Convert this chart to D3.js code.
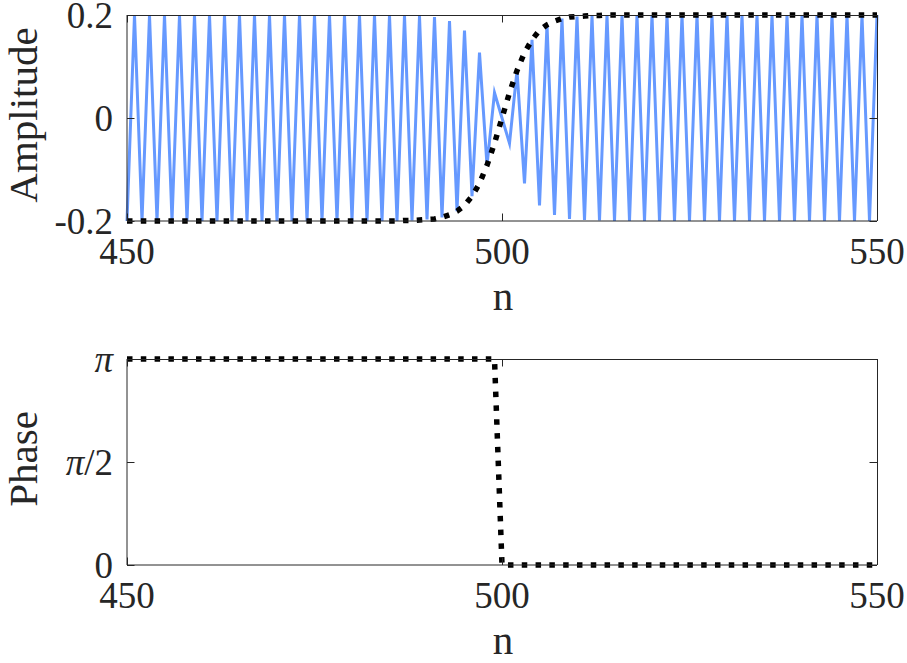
<!DOCTYPE html>
<html><head><meta charset="utf-8"><script src="https://cdn.jsdelivr.net/npm/d3@7"></script></head>
<body style="margin:0">
<svg id="chart" width="907" height="663"></svg>
<script>
// ---------- data ----------
const nStart = 450, nEnd = 550;
const xTickValues = [450, 500, 550];
const xTickLabels = ["450", "500", "550"];
const ampTickValues = [-0.2, 0, 0.2];
const ampTickLabels = ["-0.2", "0", "0.2"];
const phaseTickValues = [0, Math.PI / 2, Math.PI];
const phaseTickLabels = ["0", "π/2", "π"];

// signal samples x[n], n = 450 ... 550
const signal = [
  -0.2, 0.2, -0.2, 0.2, -0.2, 0.2, -0.2, 0.2, -0.2, 0.2,      // 450-459
  -0.2, 0.2, -0.2, 0.2, -0.2, 0.2, -0.2, 0.2, -0.2, 0.2,      // 460-469
  -0.2, 0.2, -0.2, 0.2, -0.2, 0.2, -0.2, 0.2, -0.2, 0.2,      // 470-479
  -0.2, 0.2, -0.2, 0.2, -0.2, 0.2, -0.2, 0.199, -0.199, 0.198, // 480-489
  -0.197, 0.196, -0.193, 0.188, -0.181, 0.170, -0.152, 0.127, -0.092, 0.049, // 490-499
  0, -0.049, 0.092, -0.127, 0.152, -0.170, 0.181, -0.188, 0.193, -0.196, // 500-509
  0.197, -0.198, 0.199, -0.199, 0.2, -0.2, 0.2, -0.2, 0.2, -0.2, // 510-519
  0.2, -0.2, 0.2, -0.2, 0.2, -0.2, 0.2, -0.2, 0.2, -0.2,      // 520-529
  0.2, -0.2, 0.2, -0.2, 0.2, -0.2, 0.2, -0.2, 0.2, -0.2,      // 530-539
  0.2, -0.2, 0.2, -0.2, 0.2, -0.2, 0.2, -0.2, 0.2, -0.2,      // 540-549
  0.2                                                          // 550
];

// envelope (signed amplitude), n = 450 ... 550
const envelope = [
  -0.2, -0.2, -0.2, -0.2, -0.2, -0.2, -0.2, -0.2, -0.2, -0.2,
  -0.2, -0.2, -0.2, -0.2, -0.2, -0.2, -0.2, -0.2, -0.2, -0.2,
  -0.2, -0.2, -0.2, -0.2, -0.2, -0.2, -0.2, -0.2, -0.2, -0.2,
  -0.2, -0.2, -0.2, -0.2, -0.2, -0.2, -0.2, -0.199, -0.199, -0.198,
  -0.197, -0.196, -0.193, -0.188, -0.181, -0.170, -0.152, -0.127, -0.092, -0.049,
  0, 0.049, 0.092, 0.127, 0.152, 0.170, 0.181, 0.188, 0.193, 0.196,
  0.197, 0.198, 0.199, 0.199, 0.2, 0.2, 0.2, 0.2, 0.2, 0.2,
  0.2, 0.2, 0.2, 0.2, 0.2, 0.2, 0.2, 0.2, 0.2, 0.2,
  0.2, 0.2, 0.2, 0.2, 0.2, 0.2, 0.2, 0.2, 0.2, 0.2,
  0.2, 0.2, 0.2, 0.2, 0.2, 0.2, 0.2, 0.2, 0.2, 0.2,
  0.2
];

// phase, n = 450 ... 550
const phase = [
  3.1416, 3.1416, 3.1416, 3.1416, 3.1416, 3.1416, 3.1416, 3.1416, 3.1416, 3.1416,
  3.1416, 3.1416, 3.1416, 3.1416, 3.1416, 3.1416, 3.1416, 3.1416, 3.1416, 3.1416,
  3.1416, 3.1416, 3.1416, 3.1416, 3.1416, 3.1416, 3.1416, 3.1416, 3.1416, 3.1416,
  3.1416, 3.1416, 3.1416, 3.1416, 3.1416, 3.1416, 3.1416, 3.1416, 3.1416, 3.1416,
  3.1416, 3.1416, 3.1416, 3.1416, 3.1416, 3.1416, 3.1416, 3.1416, 3.1416, 3.1416,
  0, 0, 0, 0, 0, 0, 0, 0, 0, 0,
  0, 0, 0, 0, 0, 0, 0, 0, 0, 0,
  0, 0, 0, 0, 0, 0, 0, 0, 0, 0,
  0, 0, 0, 0, 0, 0, 0, 0, 0, 0,
  0, 0, 0, 0, 0, 0, 0, 0, 0, 0,
  0
];

const nValues = d3.range(nStart, nEnd + 1);

// ---------- layout ----------
const svg = d3.select("#chart");
const L = 127, R = 877;
const panels = [
  { top: 15, bottom: 221, domain: [-0.2, 0.2], ticks: ampTickValues, labels: ampTickLabels, ylabel: "Amplitude" },
  { top: 359, bottom: 565, domain: [0, Math.PI], ticks: phaseTickValues, labels: phaseTickLabels, ylabel: "Phase" }
];
const tickLen = 7.5;
const fs = 37;
const axisColor = "#262626";
const FONT = "'Liberation Serif'";

const x = d3.scaleLinear().domain([nStart, nEnd]).range([L, R]);

function addText(xp, yp, str, size, anchor) {
  return svg.append("text").attr("x", xp).attr("y", yp)
    .style("font-family", FONT).style("font-size", size + "px")
    .attr("fill", axisColor).attr("text-anchor", anchor).text(str);
}

panels.forEach((p, idx) => {
  const y = d3.scaleLinear().domain(p.domain).range([p.bottom, p.top]);
  const g = svg.append("g");

  const line = d3.line().x((d, i) => x(nValues[i])).y(d => y(d));
  if (idx === 0) {
    g.append("path").datum(signal)
      .attr("d", line)
      .attr("fill", "none")
      .attr("stroke", "#6699ff")
      .attr("stroke-width", 3)
      .attr("stroke-linejoin", "miter")
      .attr("stroke-miterlimit", 10);
    g.append("path").datum(envelope)
      .attr("d", line)
      .attr("fill", "none")
      .attr("stroke", "#000")
      .attr("stroke-width", 5.5)
      .attr("stroke-dasharray", "5.5,8.3");
  } else {
    g.append("path").datum(phase)
      .attr("d", line)
      .attr("fill", "none")
      .attr("stroke", "#000")
      .attr("stroke-width", 5.5)
      .attr("stroke-dasharray", "5.5,8.3");
  }

  // tick marks (inside) on all four sides, via d3 axes without labels
  const axes = [
    g.append("g").attr("transform", `translate(0,${p.bottom})`)
      .call(d3.axisBottom(x).tickValues(xTickValues).tickSizeInner(-tickLen).tickSizeOuter(0).tickFormat("")),
    g.append("g").attr("transform", `translate(0,${p.top})`)
      .call(d3.axisTop(x).tickValues(xTickValues).tickSizeInner(-tickLen).tickSizeOuter(0).tickFormat("")),
    g.append("g").attr("transform", `translate(${L},0)`)
      .call(d3.axisLeft(y).tickValues(p.ticks).tickSizeInner(-tickLen).tickSizeOuter(0).tickFormat("")),
    g.append("g").attr("transform", `translate(${R},0)`)
      .call(d3.axisRight(y).tickValues(p.ticks).tickSizeInner(-tickLen).tickSizeOuter(0).tickFormat(""))
  ];
  axes.forEach(a => {
    a.select(".domain").remove();
    a.selectAll("text").remove();
    a.selectAll(".tick line").attr("stroke", axisColor).attr("stroke-width", 1);
  });

  // frame
  g.append("line").attr("x1", L).attr("x2", R + 0.5).attr("y1", p.top + 0.5).attr("y2", p.top + 0.5)
    .attr("stroke", axisColor).attr("stroke-width", 1);
  g.append("line").attr("x1", R + 0.5).attr("x2", R + 0.5).attr("y1", p.top).attr("y2", p.bottom)
    .attr("stroke", axisColor).attr("stroke-width", 1);
  g.append("line").attr("x1", L).attr("x2", L).attr("y1", p.top).attr("y2", p.bottom)
    .attr("stroke", axisColor).attr("stroke-width", 1);
  g.append("line").attr("x1", L).attr("x2", R).attr("y1", p.bottom).attr("y2", p.bottom)
    .attr("stroke", axisColor).attr("stroke-width", 1);

  // x tick labels
  xTickValues.forEach((v, i) => addText(x(v), p.bottom + 43, xTickLabels[i], fs, "middle"));

  // y tick labels
  p.ticks.forEach((v, i) => {
    const lab = p.labels[i];
    const t = addText(L - 14, y(v) + 12.5, null, fs, "end");
    if (lab.indexOf("π") >= 0) {
      t.append("tspan").style("font-style", "italic").text("π");
      if (lab.length > 1) t.append("tspan").text(lab.slice(1));
    } else {
      t.text(lab);
    }
  });

  // x label
  addText((L + R) / 2 + 1, p.bottom + 89, "n", 41, "middle");

  // y label
  svg.append("text")
    .attr("transform", `translate(37,${(p.top + p.bottom) / 2 - 3}) rotate(-90)`)
    .style("font-family", FONT).style("font-size", "41px").attr("fill", axisColor)
    .attr("text-anchor", "middle").text(p.ylabel);
});
</script>
</body>
</html>
